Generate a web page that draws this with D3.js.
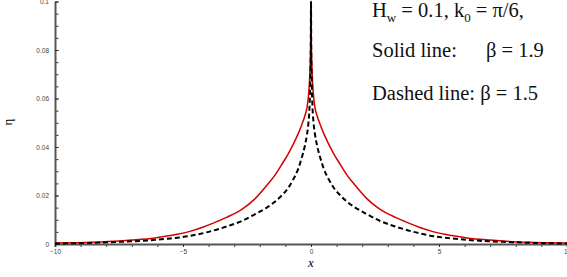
<!DOCTYPE html>
<html>
<head>
<meta charset="utf-8">
<script src="https://cdn.jsdelivr.net/npm/d3@7"></script>
<style>
body { margin: 0; background: #fff; }
svg { display: block; }
.tick text { font-family: Arial, "Liberation Sans", sans-serif; font-size: 6.5px; fill: #444; }
.note { font-family: "Times New Roman", "Liberation Serif", serif; font-size: 20.5px; fill: #111; }
</style>
</head>
<body>
<svg width="567" height="277"></svg>
<script>
// x positions along the axis
var xs = [-10, -8.5, -7.5, -7, -6.1, -5.5, -4.8, -4.2, -3.6, -3.3, -2.7, -2.2, -1.7, -1.4, -1.1, -0.9, -0.7, -0.5, -0.35, -0.25, -0.16, -0.1, -0.06, -0.03, -0.01,
          0, 0.01, 0.03, 0.06, 0.1, 0.16, 0.25, 0.35, 0.5, 0.7, 0.9, 1.1, 1.4, 1.7, 2.2, 2.7, 3.3, 3.6, 4.2, 4.8, 5.5, 6.1, 7, 7.5, 8.5, 10];
// solid line, beta = 1.9
var solid = [0.0004, 0.0007, 0.0012, 0.0016, 0.0025, 0.0035, 0.005, 0.007, 0.0096, 0.011, 0.0143, 0.0185, 0.0245, 0.0285, 0.0335, 0.037, 0.041, 0.0455, 0.0495, 0.0525, 0.056, 0.061, 0.067, 0.075, 0.085,
             0.1, 0.085, 0.075, 0.067, 0.061, 0.056, 0.0525, 0.0495, 0.0455, 0.041, 0.037, 0.0335, 0.0285, 0.0245, 0.0185, 0.0143, 0.011, 0.0096, 0.007, 0.005, 0.0035, 0.0025, 0.0016, 0.0012, 0.0007, 0.0004];
// dashed line, beta = 1.5
var dashed = [0.0002, 0.0005, 0.0009, 0.0011, 0.0017, 0.0023, 0.0032, 0.0045, 0.0062, 0.0072, 0.0095, 0.0122, 0.0152, 0.0175, 0.0205, 0.023, 0.0265, 0.031, 0.036, 0.04, 0.045, 0.05, 0.056, 0.066, 0.08,
              0.1, 0.08, 0.066, 0.056, 0.05, 0.045, 0.04, 0.036, 0.031, 0.0265, 0.023, 0.0205, 0.0175, 0.0152, 0.0122, 0.0095, 0.0072, 0.0062, 0.0045, 0.0032, 0.0023, 0.0017, 0.0011, 0.0009, 0.0005, 0.0002];
var xTicks = [-10, -5, 0, 5, 10];
var yTicks = [0, 0.02, 0.04, 0.06, 0.08, 0.1];

var svg = d3.select('svg');
var x = d3.scaleLinear().domain([-10, 10]).range([55, 567]);
var y = d3.scaleLinear().domain([0, 0.1]).range([244, 1.5]);

// minor ticks
svg.append('g').attr('transform', 'translate(0,244)')
    .call(d3.axisBottom(x).ticks(20).tickSize(3).tickFormat(''))
    .call(function (g) { g.select('.domain').remove(); g.selectAll('line').attr('stroke', '#333'); });
svg.append('g').attr('transform', 'translate(55,0)')
    .call(d3.axisRight(y).ticks(20).tickSize(3.5).tickFormat(''))
    .call(function (g) { g.select('.domain').remove(); g.selectAll('line').attr('stroke', '#333'); });

// axes with labels
var gx = svg.append('g').attr('transform', 'translate(0,244)')
    .call(d3.axisBottom(x).tickValues(xTicks).tickSize(3).tickPadding(2.5).tickFormat(d3.format('d')));
gx.select('.domain').attr('stroke', '#555').attr('stroke-width', 2);
gx.selectAll('line').attr('stroke', '#333');

var gy = svg.append('g').attr('transform', 'translate(55,0)')
    .call(d3.axisLeft(y).tickValues(yTicks).tickSize(0).tickPadding(6).tickFormat(function (d) { return d === 0 ? '0' : String(+d.toFixed(2)); }));
gy.select('.domain').attr('stroke', '#555').attr('stroke-width', 2);
gy.selectAll('.tick').append('line').attr('x2', 3.5).attr('stroke', '#333');

var line = d3.line().x(function (d, i) { return x(xs[i]); }).y(function (d) { return y(d); }).curve(d3.curveMonotoneX);

svg.append('path').datum(solid).attr('d', line).attr('fill', 'none')
    .attr('stroke', '#d40000').attr('stroke-width', 1.5);
svg.append('path').datum(dashed).attr('d', line).attr('fill', 'none')
    .attr('stroke', '#000').attr('stroke-width', 2).attr('stroke-dasharray', '5,3');

// axis titles
svg.append('text').attr('x', 311).attr('y', 267).attr('text-anchor', 'middle')
    .style('font-family', '"Times New Roman", "Liberation Serif", serif').style('font-style', 'italic').style('font-size', '13px')
    .text('x');
svg.append('text').attr('transform', 'translate(12,122) rotate(-90)').attr('text-anchor', 'middle')
    .style('font-family', '"Times New Roman", "Liberation Serif", serif').style('font-size', '13px')
    .text('η');

// annotation
var t1 = svg.append('text').attr('class', 'note').attr('x', 372).attr('y', 16.5);
t1.append('tspan').text('H');
t1.append('tspan').attr('dy', 5).style('font-size', '13px').text('w');
t1.append('tspan').attr('dy', -5).text(' = 0.1, k');
t1.append('tspan').attr('dy', 5).style('font-size', '13px').text('0');
t1.append('tspan').attr('dy', -5).text(' = π/6,');

svg.append('text').attr('class', 'note').attr('x', 372).attr('y', 57).text('Solid line:');
svg.append('text').attr('class', 'note').attr('x', 486).attr('y', 57).text('β = 1.9');
svg.append('text').attr('class', 'note').attr('x', 372).attr('y', 100).text('Dashed line: β = 1.5');
</script>
</body>
</html>
